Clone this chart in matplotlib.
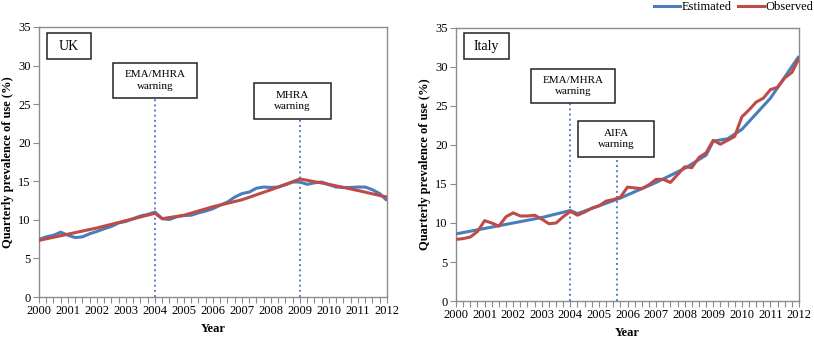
import numpy as np
import matplotlib
matplotlib.use("Agg")
import matplotlib.pyplot as plt
from matplotlib.lines import Line2D
from matplotlib.patches import Rectangle

plt.rcParams['font.family'] = ['Liberation Serif', 'DejaVu Serif']

# quarterly time axis 2000..2012
quarters = np.arange(49) / 4.0 + 2000
year_labels = [str(y) for y in range(2000, 2013)]

# UK: blue (noisy) series, red (smooth segmented) series
uk_blue = [7.47, 7.8, 8.0, 8.4, 8.0, 7.7, 7.8, 8.2, 8.5, 8.85, 9.15, 9.6,
           9.8, 10.15, 10.5, 10.7, 11.0, 10.15, 10.05, 10.4, 10.55, 10.6, 10.9, 11.15,
           11.45, 11.9, 12.3, 12.95, 13.4, 13.6, 14.1, 14.25, 14.2, 14.25, 14.55, 14.9,
           14.9, 14.6, 14.8, 14.9, 14.55, 14.25, 14.2, 14.2, 14.25, 14.25, 13.9, 13.4,
           12.5]
uk_red_x = [2000, 2002, 2004, 2004.25, 2005, 2006, 2007, 2008, 2009, 2010, 2011, 2012]
uk_red = [7.34, 8.95, 10.85, 10.15, 10.6, 11.7, 12.6, 13.9, 15.3, 14.6, 13.8, 12.95]

# Italy: blue (smooth estimated), red (observed quarterly)
it_blue_x = [2000, 2001, 2002, 2003, 2004, 2004.25, 2005, 2005.75, 2006, 2007,
             2008, 2008.75, 2009, 2009.5, 2010, 2011, 2012]
it_blue = [8.6, 9.3, 10.0, 10.7, 11.6, 11.2, 12.2, 13.2, 13.6, 15.2,
           17.0, 18.7, 20.5, 20.8, 22.0, 26.0, 31.4]
it_red = [7.9, 8.0, 8.2, 8.9, 10.3, 10.0, 9.6, 10.8, 11.3, 10.9, 10.9, 11.0,
          10.5, 9.9, 10.0, 10.8, 11.5, 11.0, 11.4, 11.9, 12.2, 12.8, 13.0, 13.3,
          14.6, 14.5, 14.4, 14.9, 15.6, 15.6, 15.2, 16.2, 17.2, 17.1, 18.4, 19.0,
          20.6, 20.1, 20.6, 21.1, 23.6, 24.5, 25.5, 26.0, 27.1, 27.4, 28.6, 29.3,
          31.1]

BLUE = '#4A7EBB'
RED = '#BE4B48'
SPINE = '#8C8C8C'
DOT = '#5B7FCB'

W, H = 814, 341
fig = plt.figure(figsize=(W / 100, H / 100), dpi=100)
ax1 = fig.add_axes([0.0479, 0.129, 0.4275, 0.792])
ax2 = fig.add_axes([0.5602, 0.1173, 0.4214, 0.8006])


def style_axes(ax):
    ax.set_xlim(2000, 2012)
    ax.set_ylim(0, 35)
    ax.set_yticks(range(0, 36, 5))
    ax.set_xticks(range(2000, 2013))
    ax.set_xticklabels(year_labels)
    ax.set_xticks(quarters, minor=True)
    ax.tick_params(axis='both', which='both', direction='out', color=SPINE,
                   labelsize=9, length=4, width=0.8, pad=2)
    for s in ax.spines.values():
        s.set_color(SPINE)
        s.set_linewidth(1.0)
    ax.set_xlabel('Year', fontsize=9, fontweight='bold', labelpad=4)
    ax.set_ylabel('Quarterly prevalence of use (%)', fontsize=9,
                  fontweight='bold', labelpad=3)


def box(x0, y0, x1, y1, text, size=8):
    # box given in figure pixels (top-left origin)
    fx, fy = x0 / W, 1 - y1 / H
    fw, fh = (x1 - x0) / W, (y1 - y0) / H
    fig.add_artist(Rectangle((fx, fy), fw, fh, transform=fig.transFigure,
                             fc='white', ec='#222222', lw=1.1, zorder=5))
    fig.text(fx + fw / 2, fy + fh / 2, text, ha='center', va='center',
             fontsize=size, linespacing=1.3, zorder=6)


# UK panel
ax1.plot(quarters, uk_blue, color=BLUE, lw=2.2, solid_capstyle='butt', zorder=3)
ax1.plot(uk_red_x, uk_red, color=RED, lw=2.2, solid_capstyle='butt', zorder=4)
ax1.plot([2004, 2004], [0, 25.8], color=DOT, lw=1.4, ls=':', zorder=2)
ax1.plot([2009, 2009], [0, 23.1], color=DOT, lw=1.4, ls=':', zorder=2)
style_axes(ax1)
box(47, 33, 91, 59, 'UK', size=10)
box(113, 63, 197, 98, 'EMA/MHRA\nwarning')
box(254, 83, 331, 119, 'MHRA\nwarning')

# Italy panel
ax2.plot(it_blue_x, it_blue, color=BLUE, lw=2.2, solid_capstyle='butt', zorder=3)
ax2.plot(quarters, it_red, color=RED, lw=2.2, solid_capstyle='butt', zorder=4)
ax2.plot([2004, 2004], [0, 25.4], color=DOT, lw=1.4, ls=':', zorder=2)
ax2.plot([2005.62, 2005.62], [0, 18.5], color=DOT, lw=1.4, ls=':', zorder=2)
style_axes(ax2)
box(464, 33, 509, 59, 'Italy', size=10)
box(531, 69, 615, 103, 'EMA/MHRA\nwarning')
box(578, 121, 654, 157, 'AIFA\nwarning')

handles = [Line2D([], [], color=BLUE, lw=2.2), Line2D([], [], color=RED, lw=2.2)]
fig.legend(handles, ['Estimated', 'Observed'], loc='upper right',
           bbox_to_anchor=(1.013, 1.03), ncol=2, frameon=False, fontsize=9,
           handlelength=2.1, handletextpad=0.1, columnspacing=0.5)

fig.savefig('out.png', dpi=100)
